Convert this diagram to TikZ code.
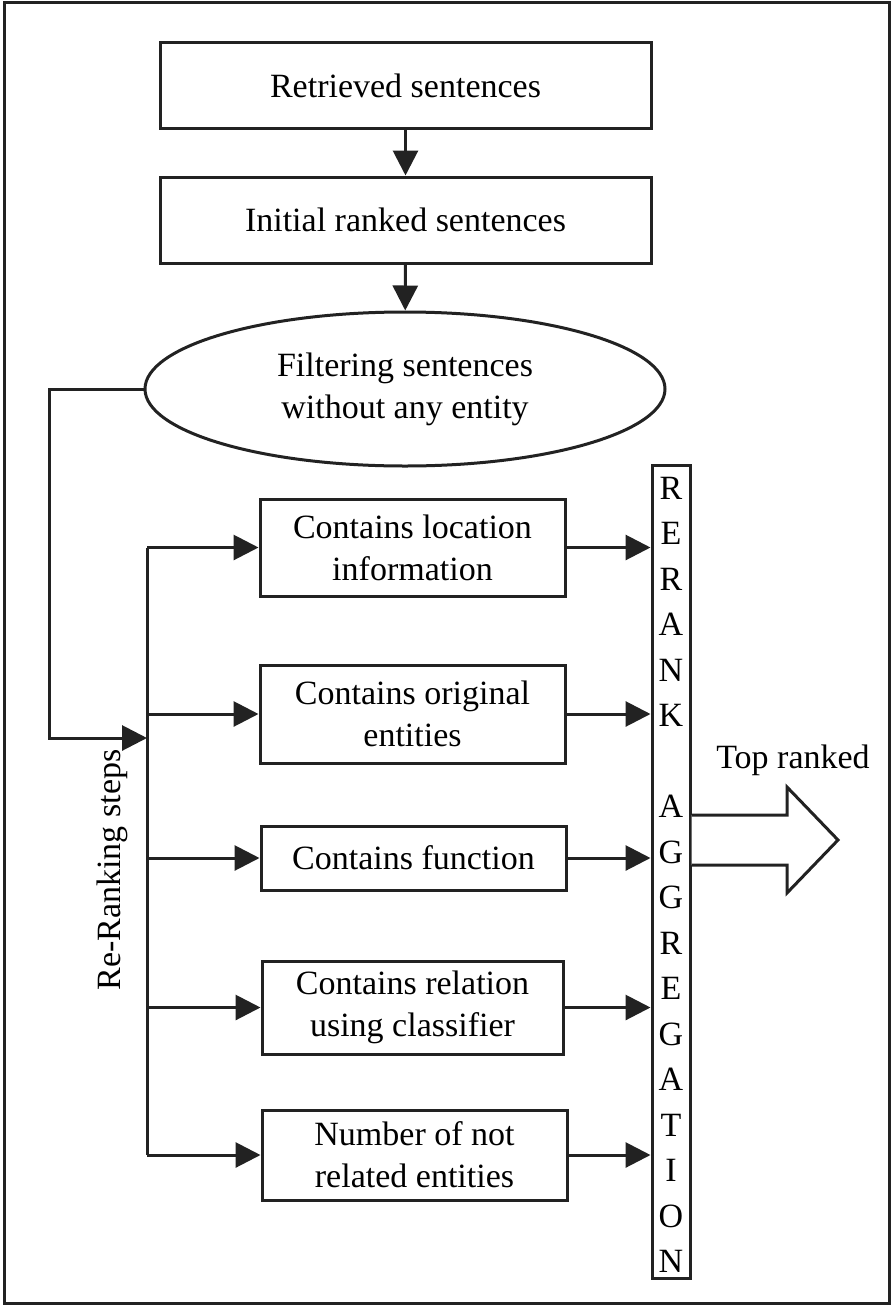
\documentclass[tikz,border=0pt]{standalone}
\usepackage{fontspec}
\setmainfont{Liberation Serif}
\usetikzlibrary{arrows.meta,shapes.geometric}
\definecolor{ln}{HTML}{222222}
\begin{document}
\begin{tikzpicture}[x=1pt,y=-1pt,
  every node/.style={font=\fontsize{34}{42}\selectfont},
  box/.style={draw=ln,line width=3pt,align=center,inner sep=0pt},
  ell/.style={draw=ln,line width=3pt,ellipse,align=center,inner sep=0pt,minimum width=520pt,minimum height=154pt},
  wire/.style={draw=ln,line width=3pt},
  arr/.style={draw=ln,line width=3pt,-{Triangle[length=25pt,width=25pt]}}]
\useasboundingbox (0,0) rectangle (892,1306);
\draw[wire] (4,3) rectangle (889,1303);
% main column
\node[box,minimum width=491pt,minimum height=85pt] (r) at (405.5,85.5) {Retrieved sentences};
\node[box,minimum width=491pt,minimum height=86pt] (i) at (405.5,220) {Initial ranked sentences};
\node[ell] (f) at (405,389) {Filtering sentences\\without any entity};
% criteria boxes
\node[box,minimum width=305pt,minimum height=97pt] (c1) at (412.5,547.5) {Contains location\\information};
\node[box,minimum width=305pt,minimum height=98pt] (c2) at (412.5,714) {Contains original\\entities};
\node[box,minimum width=305pt,minimum height=64pt] (c3) at (413.5,858) {Contains function};
\node[box,minimum width=301pt,minimum height=93pt] (c4) at (412.5,1007.5) {Contains relation\\using classifier};
\node[box,minimum width=305pt,minimum height=90pt] (c5) at (414.5,1155) {Number of not\\related entities};
% aggregation bar
\node[draw=ln,line width=3pt,minimum width=38pt,minimum height=813pt,inner sep=0pt] (bar) at (671,871.5) {};
\foreach \l [count=\k from 0] in {R,E,R,A,N,K}
  \node[anchor=base,inner sep=0pt] (u\k) at (671,499+\k*45.5) {\l};
\foreach \l [count=\k from 7] in {A,G,G,R,E,G,A,T,I,O,N}
  \node[anchor=base,inner sep=0pt] (d\k) at (671,499+\k*45.5) {\l};
% labels
\node (top) at (793,760) {Top ranked};
\node[rotate=90] (rr) at (112,870) {Re-Ranking steps};
% connectors
\draw[arr] (r) -- (i);
\draw[arr] (i) -- (f);
\coordinate (loop) at (49,392);
\coordinate (join) at (147,738);
\draw[arr] (f.west) -- (f.west -| loop) |- (join);
\coordinate (bt) at (147,547.5);
\coordinate (bb) at (147,1155);
\draw[wire] (bt) -- (bb);
\foreach \c in {c1,c2,c3,c4,c5}{
  \draw[arr] (\c.west -| bt) -- (\c.west);
  \draw[arr] (\c.east) -- (\c.east -| bar.west);
}
% big output arrow
\draw[wire,fill=white,line join=miter] (bar.east |- 0,815) -- (787,815) -- (787,787) -- (838,840) -- (787,893) -- (787,865) -- (bar.east |- 0,865);
\end{tikzpicture}
\end{document}
